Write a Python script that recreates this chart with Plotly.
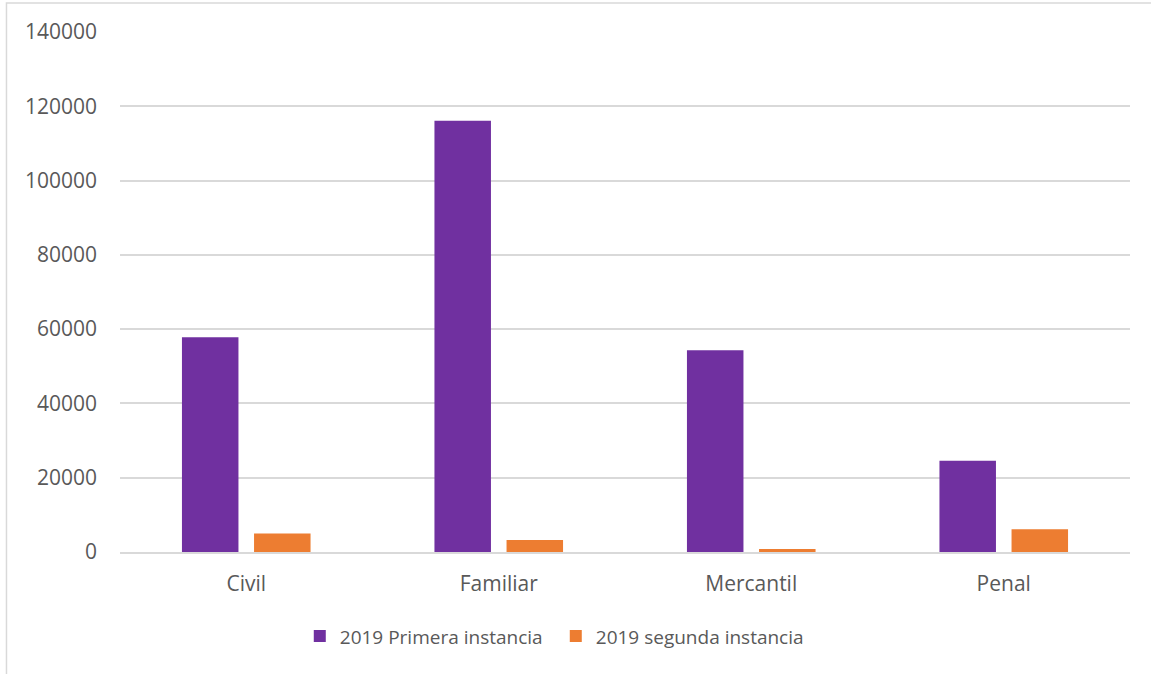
import plotly.graph_objects as go

categories = ["Civil", "Familiar", "Mercantil", "Penal"]
primera = [57800, 116100, 54300, 24600]
segunda = [5000, 3200, 800, 6100]
series_names = ["2019 Primera instancia", "2019 segunda instancia"]
y_ticks = [0, 20000, 40000, 60000, 80000, 100000, 120000, 140000]

PURPLE = "#7030A0"
ORANGE = "#ED7D31"
TEXT = "#595959"
GRID = "#D9D9D9"
FONT = "Open Sans"

fig = go.Figure()
fig.add_trace(go.Bar(x=categories, y=primera, name=series_names[0],
                     marker=dict(color=PURPLE, line=dict(width=0))))
fig.add_trace(go.Bar(x=categories, y=segunda, name=series_names[1],
                     marker=dict(color=ORANGE, line=dict(width=0))))

fig.update_layout(
    width=1151, height=674,
    margin=dict(l=120, r=21, t=32, b=122, autoexpand=False),
    paper_bgcolor="white", plot_bgcolor="white",
    barmode="group", bargap=0.429, bargroupgap=0.216,
    font=dict(family=FONT, size=19, color=TEXT),
    legend=dict(orientation="h", x=0.178, xanchor="left", y=-0.162, yanchor="middle",
                font=dict(family=FONT, size=19, color=TEXT),
                entrywidth=211, entrywidthmode="pixels",
                traceorder="normal", itemclick=False),
    showlegend=True,
    shapes=[dict(type="rect", xref="paper", yref="paper",
                 x0=-0.1124, x1=1.2, y0=-0.5, y1=1.0558,
                 line=dict(color=GRID, width=1.5), fillcolor="rgba(0,0,0,0)",
                 layer="below")],
)
fig.update_yaxes(range=[0, 140000], tickvals=y_ticks, ticktext=[str(v) for v in y_ticks],
                 showgrid=True, gridcolor=GRID, gridwidth=1.5, zeroline=False,
                 showline=False, ticks="", ticklabelstandoff=22,
                 tickfont=dict(family=FONT, size=21, color=TEXT))
fig.update_xaxes(showgrid=False, showline=True, linecolor=GRID, linewidth=1.5,
                 ticks="", ticklabelstandoff=12,
                 tickfont=dict(family=FONT, size=21, color=TEXT))

fig.write_html("out.html")
